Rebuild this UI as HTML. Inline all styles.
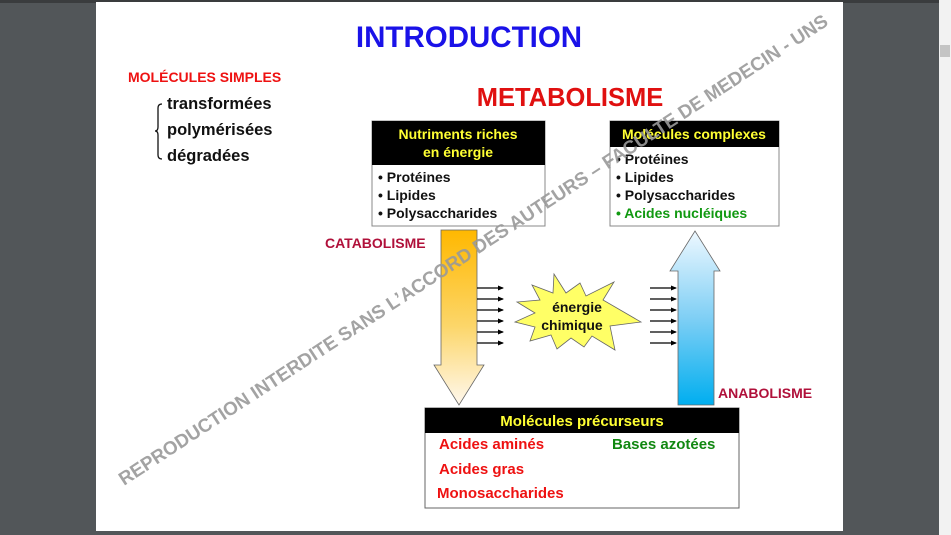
<!DOCTYPE html>
<html><head><meta charset="utf-8"><style>
html,body{margin:0;padding:0;background:#525659;}
svg{display:block}
text{font-family:"Liberation Sans",Arial,sans-serif;font-weight:bold}
.n{font-family:"Liberation Sans Narrow","Liberation Sans",sans-serif}
</style></head><body>
<svg width="951" height="535" viewBox="0 0 951 535" xmlns="http://www.w3.org/2000/svg">
<defs>
<linearGradient id="og" x1="0" y1="0" x2="0" y2="1"><stop offset="0" stop-color="#ffb800"/><stop offset="0.55" stop-color="#fcd66a"/><stop offset="1" stop-color="#fff8ee"/></linearGradient>
<linearGradient id="bg" x1="0" y1="0" x2="0" y2="1"><stop offset="0" stop-color="#eef8ff"/><stop offset="0.5" stop-color="#7fcff5"/><stop offset="1" stop-color="#00aeef"/></linearGradient>
<marker id="ah" markerWidth="6" markerHeight="6" refX="5" refY="3" orient="auto" markerUnits="userSpaceOnUse"><path d="M0,0.5 L6,3 L0,5.5z" fill="#000"/></marker>
</defs>
<rect x="0" y="0" width="951" height="3" fill="#3a3c3e"/>
<rect x="939" y="0" width="12" height="535" fill="#f2f2f2"/>
<rect x="940" y="45" width="10" height="12" fill="#c4c4c4"/>
<rect x="96" y="2" width="747" height="529" fill="#fff"/>

<text x="469" y="47" font-size="29.5" fill="#1a12e8" text-anchor="middle">INTRODUCTION</text>
<text x="128" y="82" font-size="14" fill="#ee1111">MOLÉCULES SIMPLES</text>
<text x="167" y="109" font-size="16.5" fill="#111">transformées</text>
<text x="167" y="135" font-size="16.5" fill="#111">polymérisées</text>
<text x="167" y="161" font-size="16.5" fill="#111">dégradées</text>
<path d="M162,104 Q158,104 158,108 L158,127 Q158,131 155,131 Q158,131 158,135 L158,155 Q158,159 162,159" fill="none" stroke="#111" stroke-width="1.3"/>

<text x="570" y="106" font-size="25.5" fill="#e01010" text-anchor="middle">METABOLISME</text>

<rect x="372" y="121" width="173" height="105" fill="#fff" stroke="#888"/>
<rect x="372" y="121" width="173" height="44" fill="#000"/>
<text x="458" y="139" font-size="14" fill="#ffff33" text-anchor="middle">Nutriments riches</text>
<text x="458" y="157" font-size="14" fill="#ffff33" text-anchor="middle">en énergie</text>
<text x="378" y="182" font-size="14" fill="#111">• Protéines</text>
<text x="378" y="200" font-size="14" fill="#111">• Lipides</text>
<text x="378" y="218" font-size="14" fill="#111">• Polysaccharides</text>

<rect x="610" y="121" width="169" height="105" fill="#fff" stroke="#888"/>
<rect x="610" y="121" width="169" height="26" fill="#000"/>
<text x="694" y="139" font-size="14" fill="#ffff33" text-anchor="middle">Molécules complexes</text>
<text x="616" y="164" font-size="14" fill="#111">•  Protéines</text>
<text x="616" y="182" font-size="14" fill="#111">•  Lipides</text>
<text x="616" y="200" font-size="14" fill="#111">•  Polysaccharides</text>
<text x="616" y="218" font-size="14" fill="#119911">•  Acides nucléiques</text>

<text x="325" y="248" font-size="14" fill="#b0103a">CATABOLISME</text>
<path d="M441,230 L477,230 L477,365 L484,365 L459,405 L434,365 L441,365 Z" fill="url(#og)" stroke="#666" stroke-width="0.8"/>
<path d="M678,405 L714,405 L714,271 L720,271 L695,231 L670,271 L678,271 Z" fill="url(#bg)" stroke="#666" stroke-width="0.8"/>
<text x="718" y="398" font-size="14" fill="#b0103a">ANABOLISME</text>

<g stroke="#000" stroke-width="1.3" marker-end="url(#ah)">
<line x1="477" y1="288" x2="503" y2="288"/><line x1="477" y1="299" x2="503" y2="299"/><line x1="477" y1="310" x2="503" y2="310"/><line x1="477" y1="321" x2="503" y2="321"/><line x1="477" y1="332" x2="503" y2="332"/><line x1="477" y1="343" x2="503" y2="343"/>
<line x1="650" y1="288" x2="676" y2="288"/><line x1="650" y1="299" x2="676" y2="299"/><line x1="650" y1="310" x2="676" y2="310"/><line x1="650" y1="321" x2="676" y2="321"/><line x1="650" y1="332" x2="676" y2="332"/><line x1="650" y1="343" x2="676" y2="343"/>
</g>
<polygon points="554,274 566,293 580,283 586,296 614,282 603,300 641,322 610,326 615,350 592,336 584,347 571,338 557,349 551,335 530,341 535,327 515,322 535,313 517,302 540,300 532,285 553,293" fill="#ffff66" stroke="#666" stroke-width="0.8"/>
<text x="577" y="312" font-size="14" fill="#111" text-anchor="middle">énergie</text>
<text x="572" y="330" font-size="14" fill="#111" text-anchor="middle">chimique</text>

<rect x="425" y="408" width="314" height="100" fill="#fff" stroke="#666"/>
<rect x="425" y="408" width="314" height="25" fill="#000"/>
<text x="582" y="426" font-size="15" fill="#ffff33" text-anchor="middle" class="n">Molécules  précurseurs</text>
<text x="439" y="449" font-size="15" fill="#ee1111" class="n">Acides aminés</text>
<text x="439" y="474" font-size="15" fill="#ee1111" class="n">Acides gras</text>
<text x="437" y="498" font-size="15" fill="#ee1111" class="n">Monosaccharides</text>
<text x="612" y="449" font-size="15" fill="#118811" class="n">Bases azotées</text>

<text x="0" y="0" font-size="19" fill="#999" fill-opacity="0.9" transform="translate(124,486) rotate(-33.2)" textLength="843" lengthAdjust="spacingAndGlyphs">REPRODUCTION INTERDITE SANS L’ACCORD DES AUTEURS – FACULTE DE MEDECIN - UNS</text>
</svg>
</body></html>
